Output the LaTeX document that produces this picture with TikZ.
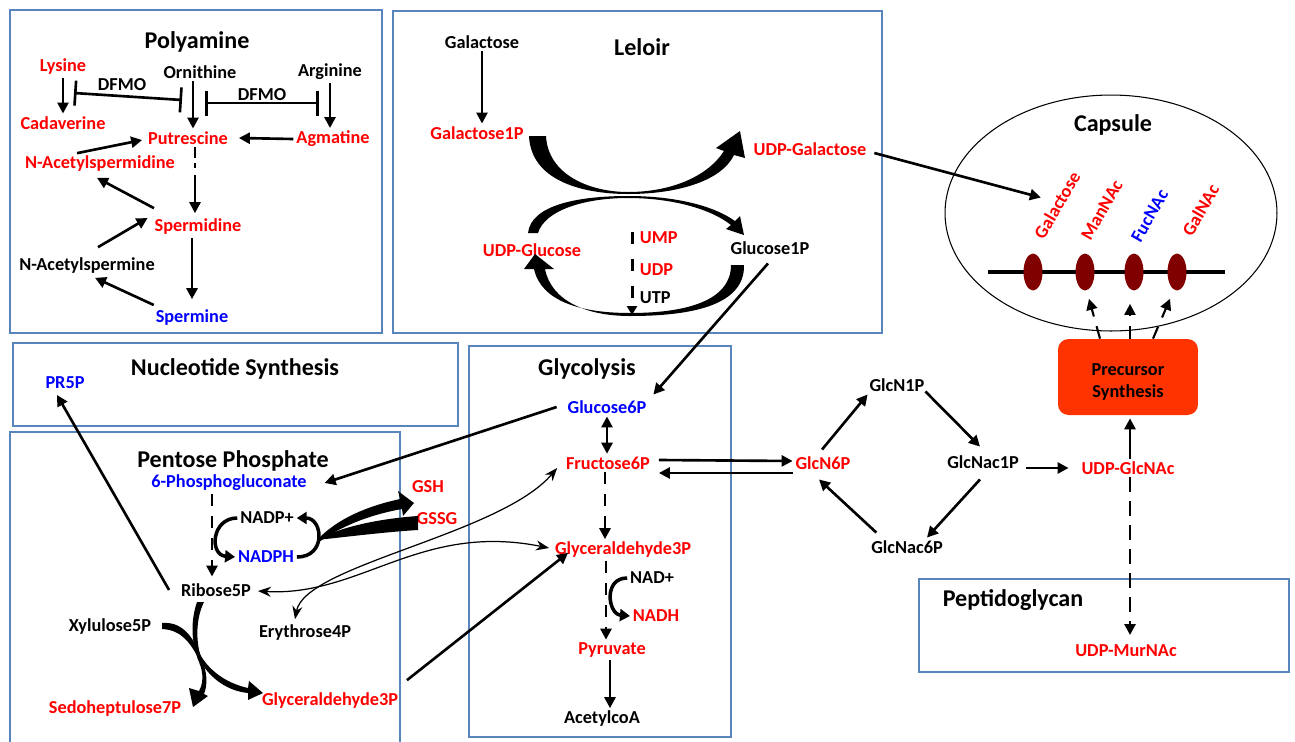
\documentclass[tikz,border=0pt]{standalone}
\usepackage{fontspec}
\setmainfont{Carlito}
\usetikzlibrary{arrows.meta,shapes.geometric}
\definecolor{boxblue}{RGB}{88,134,188}
\definecolor{sugarred}{RGB}{128,0,0}
\definecolor{precolor}{RGB}{255,51,0}
\tikzset{
  panel/.style={draw=boxblue, line width=0.7pt},
  hdr/.style={font=\bfseries\fontsize{13.7}{16}\selectfont},
  met/.style={font=\bfseries\fontsize{10.4}{12}\selectfont, inner sep=1.5pt},
  redm/.style={met, text=red},
  bluem/.style={met, text=blue},
  rxn/.style={line width=1.5pt, -{Triangle[length=2.2mm,width=2.2mm]}},
  rxnboth/.style={line width=1.5pt, {Triangle[length=2.2mm,width=2.2mm]}-{Triangle[length=2.2mm,width=2.2mm]}},
  dashrxn/.style={rxn, dash pattern=on 2.4mm off 2mm},
  inhib/.style={line width=1.5pt, {Bar[width=5mm]}-{Bar[width=5mm]}},
  swap/.style={line width=0.7pt, {Stealth[length=2.6mm,width=2mm]}-{Stealth[length=2.6mm,width=2mm]}},
  cofac/.style={line width=2pt, -{Triangle[length=2mm,width=2.4mm]}},
  sugar/.style={ellipse, fill=sugarred, minimum width=0.38cm, minimum height=0.74cm, inner sep=0pt},
}
\begin{document}
\begin{tikzpicture}[x=0.02cm, y=-0.02cm]
    \useasboundingbox (0,0) rectangle (1295,741);
    % panels
    \draw[panel] (10,10) rectangle (382,333);
    \draw[panel] (393,11) rectangle (882,333);
    \draw[panel] (13,343) rectangle (458,426);
    \draw[panel] (10,432) rectangle (400,760);
    \draw[panel] (469,346) rectangle (731,737);
    \draw[panel] (919,579) rectangle (1289,672);
    \node[hdr] (tpoly) at (197,42) {Polyamine};
    \node[hdr] (tleloir) at (642,47) {Leloir};
    \node[hdr] (tcaps) at (1113,125) {Capsule};
    \node[hdr] (tnuc) at (235,369) {Nucleotide Synthesis};
    \node[hdr] (tppp) at (233,461) {Pentose Phosphate};
    \node[hdr] (tglyc) at (587,369) {Glycolysis};
    \node[hdr] (tpep) at (1013,600) {Peptidoglycan};

    % polyamine
    \node[redm] (lys) at (63,67) {Lysine};
    \node[met] (orn) at (200,72) {Ornithine};
    \node[met] (arg) at (330,72) {Arginine};
    \node[met] (dfmoa) at (122,85) {DFMO};
    \node[met] (dfmob) at (262,95) {DFMO};
    \node[redm] (cad) at (63,123) {Cadaverine};
    \node[redm] (put) at (188,138) {Putrescine};
    \node[redm] (agm) at (333,139) {Agmatine};
    \node[redm] (nasd) at (100,164) {N-Acetylspermidine};
    \node[redm] (spd) at (198,227) {Spermidine};
    \node[met] (nasm) at (87,266) {N-Acetylspermine};
    \node[bluem] (spm) at (192,318) {Spermine};
    \coordinate (dfl) at (74,93);
    \coordinate (dfm) at (182,100);
    \coordinate (dfn) at (205,103);
    \coordinate (dfr) at (319,103);
    \draw[rxn] (lys) -- (cad);
    \draw[rxn] ([shift={(-7,0)}]orn.south) -- ([shift={(5,0)}]put.north);
    \draw[rxn] (arg.south) -- ([shift={(-3,0)}]agm.north);
    \draw[inhib] (dfl) -- (dfm);
    \draw[inhib] (dfn) -- (dfr);
    \draw[rxn] (agm.west) -- ([shift={(8,0)}]put.east);
    \draw[rxn] ([shift={(-23,0)}]nasd.north) -- ([shift={(-3,2)}]put.west);
    \draw[rxn, dash pattern=on 2.2mm off 1mm on 1mm off 1.4mm on 12mm off 1mm] ([shift={(7,0)}]put.south) -- ([shift={(-3,-3)}]spd.north);
    \draw[rxn] ([shift={(-44,-8)}]spd.north) -- ([shift={(-3,3)}]nasd.south);
    \draw[rxn] ([shift={(11,-8)}]nasm.north) -- ([shift={(-4,-9)}]spd.west);
    \draw[rxn] ([shift={(-6,0)}]spd.south) -- ([shift={(0,-8)}]spm.north);
    \draw[rxn] ([shift={(1,-13)}]spm.west) -- ([shift={(8,1)}]nasm.south);

    % leloir
    \node[met] (galx) at (482,42) {Galactose};
    \node[redm] (gal1p) at (477,133) {Galactose1P};
    \node[redm] (udpgal) at (810,149) {UDP-Galactose};
    \node[redm] (udpglc) at (532,250) {UDP-Glucose};
    \node[met] (glc1p) at (770,248) {Glucose1P};
    \node[redm, anchor=west] (ump) at (637,238) {UMP};
    \node[redm, anchor=west] (udp) at (637,270) {UDP};
    \node[met, anchor=west] (utp) at (637,298) {UTP};
    \draw[rxn] (galx.south) -- ([shift={(5,0)}]gal1p.north);
    \draw[line width=1.7pt, dash pattern=on 2.4mm off 3mm, -{Triangle[length=1.8mm,width=2mm]}] ([shift={(-5,-6)}]ump.west) -- ([shift={(-5,17)}]utp.west);
    \fill (529,136) .. controls (531,182) and (585,194) .. (628,194)
        .. controls (680,194) and (722,180) .. (734,155) -- (745,158) -- (740,131) -- (716,148) -- (724,151)
        .. controls (708,176) and (672,192) .. (628,192)
        .. controls (590,192) and (548,175) .. (546,136) -- cycle;
    \fill (528,233) .. controls (531,205) and (578,196) .. (628,196)
        .. controls (676,196) and (714,206) .. (735,221) -- (740,216) -- (744,235) -- (726,229) -- (731,225)
        .. controls (711,209) and (672,198) .. (628,198)
        .. controls (585,198) and (545,210) .. (538,233) -- cycle;
    \fill (744,265) .. controls (745,306) and (690,316) .. (630,316)
        .. controls (585,316) and (551,300) .. (545,269) -- (554,269) -- (535,254) -- (524,269) -- (534,269)
        .. controls (541,301) and (580,313) .. (630,313)
        .. controls (688,313) and (731,300) .. (731,265) -- cycle;

    % capsule
    \node[draw, ellipse, line width=0.6pt, minimum width=6.64cm, minimum height=4.72cm] (caps) at (1111,213) {};
    \draw[line width=2.3pt] (988,272) -- (1225,272);
    \node[sugar] (sga) at (1033,272) {};
    \node[sugar] (sgb) at (1085,272) {};
    \node[sugar] (sgc) at (1134,272) {};
    \node[sugar] (sgd) at (1177,272) {};
    \node[redm, rotate=60, anchor=west] (capgal) at (1037,240) {Galactose};
    \node[redm, rotate=60, anchor=west] (capman) at (1084,241) {ManNAc};
    \node[bluem, rotate=60, anchor=west] (capfuc) at (1134,243) {FucNAc};
    \node[redm, rotate=60, anchor=west] (capgaln) at (1185,237) {GalNAc};
    \node[met, fill=precolor, rounded corners=6pt, minimum width=2.8cm, minimum height=1.52cm] (pre) at (1128,377) {\raisebox{-3pt}[\height][\depth]{\begin{tabular}{@{}c@{}}Precursor\\Synthesis\end{tabular}}};
    \draw[rxn] ([shift={(5,4)}]udpgal.east) -- ([shift={(-8,-3)}]capgal.north);
    \draw[rxn, line width=1.2pt, dash pattern=on 2.6mm off 2mm] ([shift={(-28,0)}]pre.north) -- ([shift={(4,8)}]sgb.south);
    \draw[rxn, line width=1.2pt, dash pattern=on 2.6mm off 2mm] ([shift={(2,0)}]pre.north) -- ([shift={(-4,13)}]sgc.south);
    \draw[rxn, line width=1.2pt, dash pattern=on 2.6mm off 2mm] ([shift={(25,0)}]pre.north) -- ([shift={(-7,8)}]sgd.south);

    % glycolysis
    \node[bluem] (glc6p) at (607,407) {Glucose6P};
    \node[redm] (f6p) at (608,463) {Fructose6P};
    \node[redm] (g3p) at (623,550) {Glyceraldehyde3P};
    \node[met] (nadplus) at (652,578) {NAD+};
    \node[redm] (nadh) at (656,616) {NADH};
    \node[redm] (pyr) at (612,650) {Pyruvate};
    \node[met] (acoa) at (602,719) {AcetylcoA};
    \draw[rxn] ([shift={(-2,6)}]glc1p.south) -- ([shift={(4,-3)}]glc6p.north east);
    \draw[rxnboth] (glc6p.south) -- ([shift={(-1,0)}]f6p.north);
    \draw[dashrxn] ([shift={(-3,0)}]f6p.south) -- ([shift={(-18,0)}]g3p.north);
    \draw[dashrxn] ([shift={(-17,0)}]g3p.south) -- ([shift={(-6,0)}]pyr.north);
    \draw[cofac] (nadplus.west) .. controls +(-24,0) and +(-22,-2) .. (nadh.west);
    \draw[rxn] ([shift={(-2,0)}]pyr.south) -- ([shift={(8,0)}]acoa.north);

    % pentose phosphate
    \node[bluem] (pr5p) at (65,383) {PR5P};
    \node[bluem] (pg6) at (229,483) {6-Phosphogluconate};
    \node[redm] (gsh) at (428,487) {GSH};
    \node[redm] (gssg) at (437,519) {GSSG};
    \node[met] (nadpp) at (267,518) {NADP+};
    \node[bluem] (nadph) at (266,557) {NADPH};
    \node[met] (rib5p) at (216,590) {Ribose5P};
    \node[met] (xyl5p) at (110,627) {Xylulose5P};
    \node[met] (ery4p) at (305,633) {Erythrose4P};
    \node[redm] (sed7p) at (115,709) {Sedoheptulose7P};
    \node[redm] (g3pp) at (330,701) {Glyceraldehyde3P};
    \draw[rxn] ([shift={(-8,0)}]glc6p.west) -- ([shift={(15,0)}]pg6.east);
    \draw[dashrxn] ([shift={(-17,0)}]pg6.south) -- ([shift={(-4,-4)}]rib5p.north);
    \draw[rxn] ([shift={(-9,0)}]rib5p.west) -- ([shift={(-8,3)}]pr5p.south);
    \draw[cofac] (nadpp.west) .. controls +(-26,0) and +(-26,-2) .. (nadph.west);
    \draw[cofac] (nadph.east) .. controls +(30,0) and +(26,0) .. (nadpp.east);
    \fill (317,540) .. controls (338,518) and (368,506) .. (400,499) -- (398,491) -- (414,503) -- (403,516) -- (402,509)
        .. controls (368,515) and (340,527) .. (319,542) -- cycle;
    \fill (418,516) .. controls (375,519) and (338,528) .. (317,540)
        .. controls (345,537) and (385,532) .. (418,530) -- cycle;
    \fill (197,602) .. controls (189,625) and (193,648) .. (199,662)
        .. controls (204,674) and (203,684) .. (199,691) -- (189,688) -- (193,707) -- (208,696) -- (204,694)
        .. controls (208,684) and (207,672) .. (202,660)
        .. controls (196,645) and (195,620) .. (204,602) -- cycle;
    \fill (162,623) .. controls (186,621) and (195,643) .. (201,656)
        .. controls (212,674) and (230,684) .. (248,688) -- (249,681) -- (263,693) -- (248,700) -- (248,693)
        .. controls (228,691) and (210,679) .. (199,659)
        .. controls (190,643) and (182,630) .. (162,629) -- cycle;
    \draw[swap] ([shift={(4,1)}]rib5p.east) .. controls (360,597) and (420,522) .. ([shift={(-3,-2)}]g3p.west);
    \draw[swap] ([shift={(-10,-3)}]ery4p.north) .. controls (305,565) and (500,535) .. ([shift={(-6,5)}]f6p.west);
    \draw[rxn] ([shift={(6,-10)}]g3pp.north east) -- ([shift={(16,-8)}]g3p.south west);

    % amino sugars
    \node[redm] (glcn6p) at (823,463) {GlcN6P};
    \node[met] (glcn1p) at (897,385) {GlcN1P};
    \node[met] (glcnac1p) at (983,462) {GlcNac1P};
    \node[met] (glcnac6p) at (907,547) {GlcNac6P};
    \node[redm] (udpglcnac) at (1128,468) {UDP-GlcNAc};
    \node[redm] (udpmurnac) at (1126,651) {UDP-MurNAc};
    \draw[rxn] ([shift={(6,-3)}]f6p.east) -- ([shift={(0,-2)}]glcn6p.west);
    \draw[rxn] ([shift={(0,10)}]glcn6p.west) -- ([shift={(6,10)}]f6p.east);
    \draw[rxn] ([shift={(-1,-4)}]glcn6p.north) -- ([shift={(1,0)}]glcn1p.south west);
    \draw[rxn] ([shift={(-2,-3)}]glcn1p.south east) -- ([shift={(-3,-6)}]glcnac1p.north);
    \draw[rxn] ([shift={(4,6)}]glcnac1p.east) -- ([shift={(-10,0)}]udpglcnac.west);
    \draw[rxn] ([shift={(-3,8)}]glcnac1p.south) -- ([shift={(20,0)}]glcnac6p.north);
    \draw[rxn] ([shift={(8,-5)}]glcnac6p.north west) -- ([shift={(-4,7)}]glcn6p.south);
    \draw[rxn] ([shift={(2,0)}]udpglcnac.north) -- ([shift={(2,3)}]pre.south);
    \draw[rxn, dash pattern=on 3mm off 1.8mm] ([shift={(2,0)}]udpglcnac.south) -- ([shift={(4,-7)}]udpmurnac.north);
\end{tikzpicture}
\end{document}
